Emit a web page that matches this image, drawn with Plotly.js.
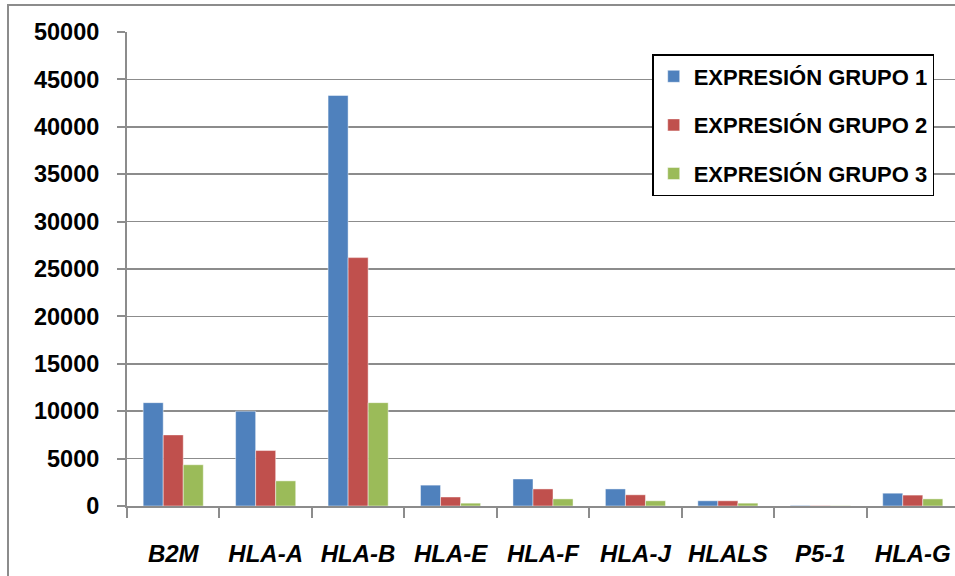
<!DOCTYPE html>
<html><head><meta charset="utf-8">
<script src="https://cdn.plot.ly/plotly-3.0.1.min.js"></script>
<style>
html,body{margin:0;padding:0;overflow:hidden;background:#fff;width:955px;height:576px;}
#frame{position:absolute;left:7px;top:4px;width:960px;height:600px;border-left:2px solid #8c8c8c;border-top:2px solid #8c8c8c;}
#chart{width:960px;height:600px;}
</style></head>
<body>
<div id="frame"><div id="chart"></div></div>
<script>
const categories = ["B2M","HLA-A","HLA-B","HLA-E","HLA-F","HLA-J","HLALS","P5-1","HLA-G"];
const seriesNames = ["EXPRESIÓN GRUPO 1","EXPRESIÓN GRUPO 2","EXPRESIÓN GRUPO 3"];
const grupo1 = [10900, 10000, 43300, 2200, 2850, 1800, 550, 60, 1350];
const grupo2 = [7500, 5850, 26200, 950, 1800, 1180, 550, 40, 1150];
const grupo3 = [4350, 2650, 10900, 300, 750, 550, 300, 30, 750];
const colors = ["#4F81BD","#C0504D","#9BBB59"];
const yTicks = [0,5000,10000,15000,20000,25000,30000,35000,40000,45000,50000];

const values = [grupo1, grupo2, grupo3];
const traces = values.map((v,i)=>({
  type:"bar", x:categories, y:v, name:seriesNames[i], legendgroup:"g"+i,
  marker:{color:colors[i], line:{color:"rgba(255,255,255,0.45)", width:1}}
}));

const layout = {
  width:960, height:600,
  margin:{l:118, r:10, t:26, b:100, autoexpand:false},
  paper_bgcolor:"#fff", plot_bgcolor:"#fff",
  font:{family:"Liberation Sans, Arial, sans-serif", color:"#000"},
  bargap:0.35, bargroupgap:0,
  showlegend:true,
  legend:{xref:"container", yref:"container", x:0.67, y:0.92, xanchor:"left", yanchor:"top",
    bordercolor:"#000", borderwidth:1.5, bgcolor:"#fff",
    font:{size:22, family:"Liberation Sans, Arial, sans-serif", weight:700, color:"#000"},
    traceorder:"grouped", tracegroupgap:17},
  xaxis:{type:"category", tickson:"boundaries", ticks:"outside", ticklen:10, tickwidth:2, tickcolor:"#8c8c8c",
    showline:true, linecolor:"#8c8c8c", linewidth:2, showgrid:false, tickangle:0, automargin:false,
    ticklabelstandoff:25,
    tickfont:{size:24, family:"Liberation Sans, Arial, sans-serif", weight:700, style:"italic", color:"#000"}},
  yaxis:{range:[0,50000], tickvals:yTicks, ticktext:yTicks.map(String), ticks:"outside", ticklen:8, tickwidth:2, tickcolor:"#8c8c8c",
    showline:true, linecolor:"#8c8c8c", linewidth:2, showgrid:true, gridcolor:"#8c8c8c", gridwidth:1.5,
    zeroline:false, ticklabelstandoff:13, automargin:false,
    tickfont:{size:23.5, family:"Liberation Sans, Arial, sans-serif", weight:700, color:"#000"}}
};
Plotly.newPlot("chart", traces, layout, {displayModeBar:false, staticPlot:true});
</script>
</body></html>
